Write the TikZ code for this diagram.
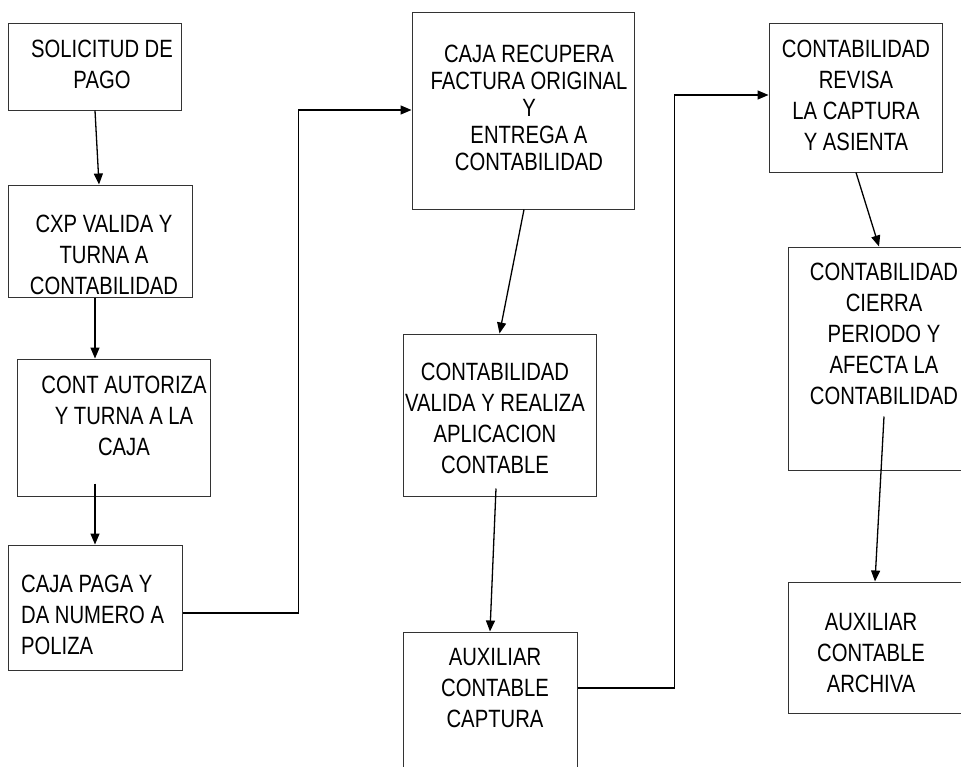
\documentclass[tikz,border=0pt]{standalone}
\usepackage{fontspec}
\setmainfont[FakeStretch=0.81]{Liberation Sans}
\usetikzlibrary{arrows.meta,calc}
\begin{document}
\begin{tikzpicture}[x=1pt,y=-1pt,
  boxst/.style={draw=black!80,line width=1pt,inner sep=0pt,minimum width=#1},
  txt/.style={inner sep=0pt,align=center,font=\fontsize{25}{31}\selectfont},
  arr/.style={draw=black,line width=1.3pt,-{Triangle[length=11pt,width=9pt]}},
  link/.style={draw=black,line width=1.3pt}]
\useasboundingbox (0,0) rectangle (961,766);
\clip (0,0) rectangle (961,766);
% boxes
\node[boxst=173pt,minimum height=87pt]  (b1)  at (94.5,66.5) {};
\node[boxst=184pt,minimum height=112pt] (b2)  at (100,241) {};
\node[boxst=193pt,minimum height=137pt] (b3)  at (113.5,427.5) {};
\node[boxst=174pt,minimum height=125pt] (b4)  at (95,607.5) {};
\node[boxst=222pt,minimum height=197pt] (b5)  at (523,110.5) {};
\node[boxst=193pt,minimum height=162pt] (b6)  at (499.5,415) {};
\node[boxst=174pt,minimum height=158pt] (b7)  at (490,711) {};
\node[boxst=173pt,minimum height=149pt] (b8)  at (855.5,97.5) {};
\node[boxst=187pt,minimum height=223pt] (b9)  at (881.5,358.5) {};
\node[boxst=187pt,minimum height=131pt] (b10) at (881.5,647.5) {};
% texts
\node[txt] (t1) at (102,64.5) {SOLICITUD DE\\PAGO};
\node[txt] (t2) at (104,255) {CXP VALIDA Y\\TURNA A\\CONTABILIDAD};
\node[txt] (t3) at (124,415.5) {CONT AUTORIZA\\Y TURNA A LA\\CAJA};
\node[txt,align=left,anchor=west] (t4) at (21,614.5) {CAJA PAGA Y\\DA NUMERO A\\POLIZA};
\node[txt,font=\fontsize{25}{27}\selectfont] (t5) at (529,108) {CAJA RECUPERA\\FACTURA ORIGINAL\\Y\\ENTREGA A\\CONTABILIDAD};
\node[txt] (t6) at (495,418.5) {CONTABILIDAD\\VALIDA Y REALIZA\\APLICACION\\CONTABLE};
\node[txt] (t7) at (495,688.5) {AUXILIAR\\CONTABLE\\CAPTURA};
\node[txt] (t8) at (856,95.5) {CONTABILIDAD\\REVISA\\LA CAPTURA\\Y ASIENTA};
\node[txt] (t9) at (884,333.5) {CONTABILIDAD\\CIERRA\\PERIODO Y\\AFECTA LA\\CONTABILIDAD};
\node[txt] (t10) at (871,653) {AUXILIAR\\CONTABLE\\ARCHIVA};
% connectors
\draw[arr] ([xshift=0.5pt]b1.south) -- ([xshift=-1pt]b2.north);
\draw[arr] ([xshift=-5pt]b2.south) -- ([xshift=-18.5pt]b3.north);
\draw[arr] ([xshift=-18.5pt,yshift=13pt]b3.south) -- (b4.north);
\draw[arr] ([yshift=-5.5pt]b4.east) -- ++(116,0) |- ([yshift=0.5pt]b5.west);
\draw[arr] ([xshift=1pt]b5.south) -- (b6.north);
\draw[arr] ([xshift=-3.5pt,yshift=8pt]b6.south) -- (b7.north);
\draw[arr] ([yshift=23pt]b7.east) -- ++(97,0) |- ([yshift=2.5pt]b8.west);
\draw[arr] ([xshift=0.5pt]b8.south) -- ([xshift=-2.5pt]b9.north);
\draw[arr] ([xshift=2.5pt,yshift=54pt]b9.south) -- ([xshift=-6.5pt]b10.north);
\end{tikzpicture}
\end{document}
